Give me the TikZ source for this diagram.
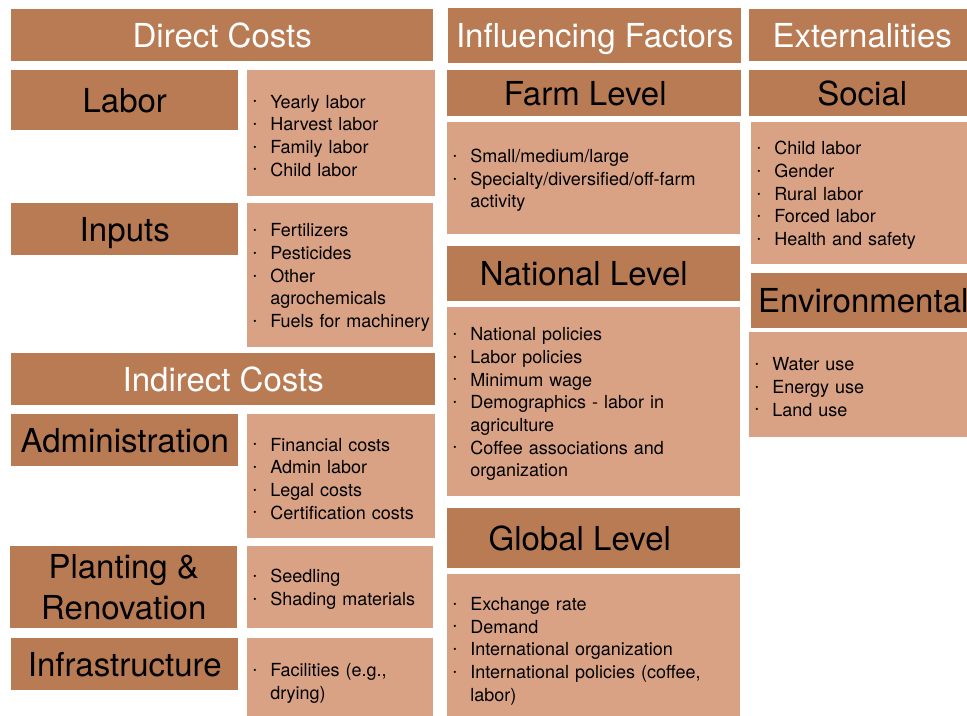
\documentclass[tikz,border=0pt]{standalone}
\usepackage{fontspec}
\setmainfont{TeX Gyre Heros}
\usepackage{graphicx}
\usetikzlibrary{positioning}
\definecolor{darkbrown}{RGB}{185,123,84}
\definecolor{lightbrown}{RGB}{217,162,133}
\newlength\px \setlength\px{0.75pt} % one pixel of the original
\newcommand\itm{\makebox[17\px][l]{\raisebox{.35ex}{\scalebox{.5}{\textbullet}}}}
\newcommand\cont{\hspace*{17\px}}
\tikzset{x=0.75pt, y=-0.75pt, % coordinates in pixels, y downwards
box/.style={ % dark header boxes
anchor=north west, inner sep=0pt, fill=darkbrown, align=center,
text height=17.8pt, text depth=0pt},
title/.style={box, text=white, font=\fontsize{24.75}{30.75}\selectfont},
topic/.style={box, text=black, font=\fontsize{24.75}{30.75}\selectfont},
items/.style={ % light boxes with the bullet lists
anchor=north west, fill=lightbrown, inner xsep=6\px, inner ysep=0pt,
align=left, font=\fontsize{13.5}{17}\selectfont,
text height=13.5pt, execute at end node={\par\vskip-\prevdepth}}}

\begin{document}
\begin{tikzpicture}
    \path[use as bounding box, fill=white] (0,0) rectangle (967,716);
    \clip (0,0) rectangle (967,716);
    % direct and indirect costs
    \node[title, minimum width=422\px, minimum height=52\px] (direct) at (11,9) {Direct Costs};
    \node[topic, minimum width=227\px, minimum height=60\px] (labor) at (11,70) {Labor};
    \node[items, text width=176\px, minimum height=126\px] (laborlist) at (247,70)
        {\itm Yearly labor\\ \itm Harvest labor\\ \itm Family labor\\ \itm Child labor};
    \node[topic, minimum width=227\px, minimum height=52\px] (inputs) at (11,203) {Inputs};
    \node[items, text width=174\px, minimum height=144\px] (inputslist) at (247,203)
        {\itm Fertilizers\\ \itm Pesticides\\ \itm Other\\ \cont agrochemicals\\ \itm \mbox{Fuels for machinery}};
    \node[title, minimum width=424\px, minimum height=52\px] (indirect) at (11,353) {Indirect Costs};
    \node[topic, minimum width=227\px, minimum height=52\px] (admin) at (11,414) {Administration};
    \node[items, text width=176\px, minimum height=124\px] (adminlist) at (247,414)
        {\itm Financial costs\\ \itm Admin labor\\ \itm Legal costs\\ \itm Certification costs};
    \node[topic, minimum width=227\px, minimum height=82\px, text height=48.55pt] (planting) at (10,546)
        {Planting \&\\ Renovation};
    \node[items, text width=174\px, minimum height=82\px] (plantinglist) at (247,546)
        {\itm Seedling\\ \itm Shading materials};
    \node[topic, minimum width=227\px, minimum height=52\px] (infra) at (11,638) {Infrastructure};
    \node[items, text width=174\px, minimum height=85\px] (infralist) at (247,638)
        {\itm Facilities (e.g.,\\ \cont drying)};
    % influencing factors
    \node[title, minimum width=293\px, minimum height=55\px] (factors) at (448,8) {Influencing Factors};
    \node[topic, minimum width=294\px, minimum height=46\px] (farm) at (447,70) {Farm Level\hspace{18\px}};
    \node[items, text width=281\px, minimum height=112\px] (farmlist) at (447,122)
        {\itm Small/medium/large\\ \itm Specialty/diversified/off-farm\\ \cont activity};
    \node[topic, minimum width=293\px, minimum height=55\px] (national) at (447,246) {National Level\hspace{20\px}};
    \node[items, text width=281\px, minimum height=189\px] (nationallist) at (447,307)
        {\itm National policies\\ \itm Labor policies\\ \itm Minimum wage\\ \itm Demographics - labor in\\
         \cont agriculture\\ \itm Coffee associations and\\ \cont organization};
    \node[topic, minimum width=293\px, minimum height=60\px] (global) at (447,508) {Global Level\hspace{28\px}};
    \node[items, text width=281\px, minimum height=149\px] (globallist) at (447,574)
        {\itm Exchange rate\\ \itm Demand\\ \itm International organization\\ \itm International policies (coffee,\\ \cont labor)};
    % externalities
    \node[title, minimum width=226\px, minimum height=52\px] (extern) at (749,9) {Externalities};
    \node[topic, minimum width=226\px, minimum height=46\px] (social) at (749,70) {Social};
    \node[items, text width=212\px, minimum height=142\px] (sociallist) at (751,122)
        {\itm Child labor\\ \itm Gender\\ \itm Rural labor\\ \itm Forced labor\\ \itm Health and safety};
    \node[topic, minimum width=224\px, minimum height=55\px] (environ) at (751,273) {Environmental};
    \node[items, text width=214\px, minimum height=105\px] (environlist) at (749,332)
        {\itm Water use\\ \itm Energy use\\ \itm Land use};
\end{tikzpicture}
\end{document}
